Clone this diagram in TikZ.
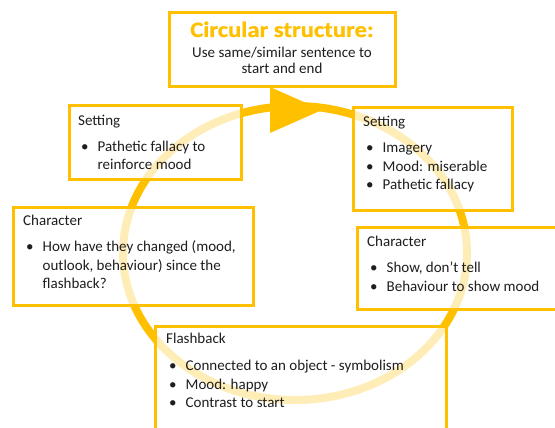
\documentclass[tikz,border=0pt]{standalone}
\usepackage{fontspec}
\setmainfont{Carlito}
\newfontfamily\headfont{Carlito}[FakeStretch=1.12, FakeBold=0.8]
\usetikzlibrary{positioning}
\definecolor{ringgold}{HTML}{FFC000}
\definecolor{inkgray}{HTML}{1E1E1E}
\newcommand{\bulitem}[1]{\makebox[19.5pt][l]{\hspace{3pt}\textbullet}#1}
\newcommand{\contline}[1]{\hspace*{19.5pt}#1}
\tikzset{
  ringline/.style={line width=8pt, ringgold},
  panel/.style={rectangle, draw=ringgold, line width=3pt, fill=white, fill opacity=0.72, text opacity=1, anchor=north west, outer sep=0pt, inner sep=0pt},
  paneltext/.style={align=left, inner sep=0pt, text=inkgray, font=\fontsize{15}{18.5}\selectfont},
  headtext/.style={inner sep=0pt, text=ringgold, font=\headfont\bfseries\fontsize{22}{26}\selectfont},
  subtext/.style={align=center, inner sep=0pt, text=inkgray, font=\fontsize{15}{16.5}\selectfont}
}

\begin{document}
\begin{tikzpicture}[x=1pt, y=-1pt]
      \useasboundingbox (0,0) rectangle (555,428);
      \coordinate (ringc) at (295,253);
      \draw[ringline] (ringc) ellipse [x radius=172, y radius=147];
      \fill[ringgold] (270,87) -- (322,110) -- (270,133) -- cycle;

      \node[panel, minimum width=226pt, minimum height=74pt] (title) at (169,13) {};
      \node[headtext, anchor=base] (heading) at (282,37) {Circular structure:};
      \node[subtext, anchor=north] (subhead) at (282,45.5) {\strut Use same/similar sentence to\\start and end};

      \node[panel, minimum width=172pt, minimum height=73pt] (setl) at (69,106) {};
      \node[paneltext, below right=6pt and 9pt of setl.north west, anchor=north west] (setltext)
        {\strut Setting\\[7.5pt]\bulitem{Pathetic fallacy to}\\\contline{reinforce mood}};

      \node[panel, minimum width=240pt, minimum height=98pt] (charl) at (13,207) {};
      \node[paneltext, below right=5pt and 10pt of charl.north west, anchor=north west] (charltext)
        {\strut Character\\[8pt]\bulitem{How have they changed (mood,}\\\contline{outlook, behaviour) since the}\\\contline{flashback?}};

      \node[panel, minimum width=159pt, minimum height=102pt] (setr) at (353,108) {};
      \node[paneltext, below right=5pt and 10pt of setr.north west, anchor=north west] (setrtext)
        {\strut Setting\\[8pt]\bulitem{Imagery}\\\bulitem{Mood: miserable}\\\bulitem{Pathetic fallacy}};

      \node[panel, minimum width=210pt, minimum height=82pt] (charr) at (357,227) {};
      \node[paneltext, below right=6pt and 10pt of charr.north west, anchor=north west] (charrtext)
        {\strut Character\\[8pt]\bulitem{Show, don’t tell}\\\bulitem{Behaviour to show mood}};

      \node[panel, minimum width=291pt, minimum height=110pt] (flash) at (155,326) {};
      \node[paneltext, below right=4pt and 11pt of flash.north west, anchor=north west] (flashtext)
        {\strut Flashback\\[9pt]\bulitem{Connected to an object - symbolism}\\\bulitem{Mood: happy}\\\bulitem{Contrast to start}};
    \end{tikzpicture}
\end{document}
